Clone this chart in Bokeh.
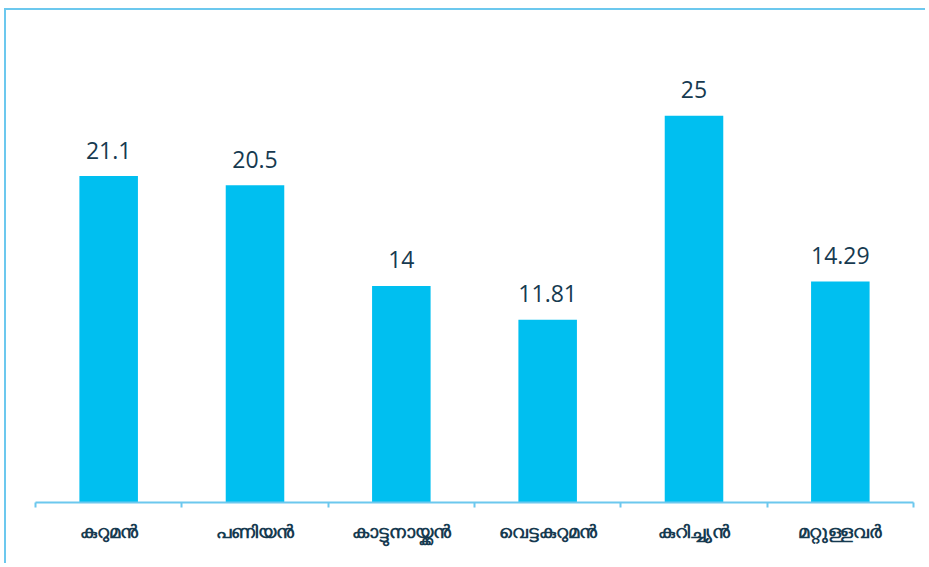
from bokeh.plotting import figure
from bokeh.models import ColumnDataSource, Range1d, FixedTicker, LinearAxis
from bokeh.embed import file_html
from bokeh.resources import INLINE
from bokeh.core.properties import value

categories = ["കുറുമൻ", "പണിയൻ", "കാട്ടുനായ്ക്കൻ", "വെട്ടകുറുമൻ", "കുറിച്ച്യൻ", "മറ്റുള്ളവർ"]
values = [21.1, 20.5, 14, 11.81, 25, 14.29]
labels = ["21.1", "20.5", "14", "11.81", "25", "14.29"]

xs = [i + 0.5 for i in range(len(categories))]
src = ColumnDataSource(dict(x=xs, top=values, lab=labels, cat=categories))

BAR = "#00BFF0"
TXT = "#163A50"
EDGE = "#6CC8EE"

p = figure(width=921, height=555, output_backend="svg", toolbar_location=None,
           x_range=Range1d(0, len(categories)), y_range=Range1d(0, 31.8),
           min_border_left=29, min_border_right=14, min_border_top=0, min_border_bottom=63,
           x_axis_location=None, y_axis_location=None)
p.styles = {"border-left": f"2px solid {EDGE}", "border-top": f"2px solid {EDGE}",
            "margin-left": "4px", "margin-top": "8px"}
p.grid.visible = False
p.outline_line_color = None
p.background_fill_color = "white"
p.border_fill_color = "white"

p.vbar(x="x", top="top", width=0.4, bottom=0, source=src, fill_color=BAR, line_color=None)
p.text(x="x", y="top", text="lab", source=src, text_align="center", text_baseline="alphabetic",
       y_offset=-26, text_font=value("Open Sans"), text_font_size="23px", text_color=TXT)

ax = LinearAxis()
ax.ticker = FixedTicker(ticks=xs, minor_ticks=list(range(len(categories) + 1)))
ax.major_label_overrides = {x: c for x, c in zip(xs, categories)}
ax.axis_line_color = EDGE
ax.axis_line_width = 2
ax.major_tick_line_color = None
ax.minor_tick_line_color = EDGE
ax.minor_tick_line_width = 2
ax.minor_tick_in = 0
ax.minor_tick_out = 5
ax.major_label_standoff = 10
ax.major_label_text_font = "Noto Sans"
ax.major_label_text_font_size = "18px"
ax.major_label_text_font_style = "bold"
ax.major_label_text_color = TXT
p.add_layout(ax, "below")

open("out.html", "w").write(file_html(p, INLINE))
